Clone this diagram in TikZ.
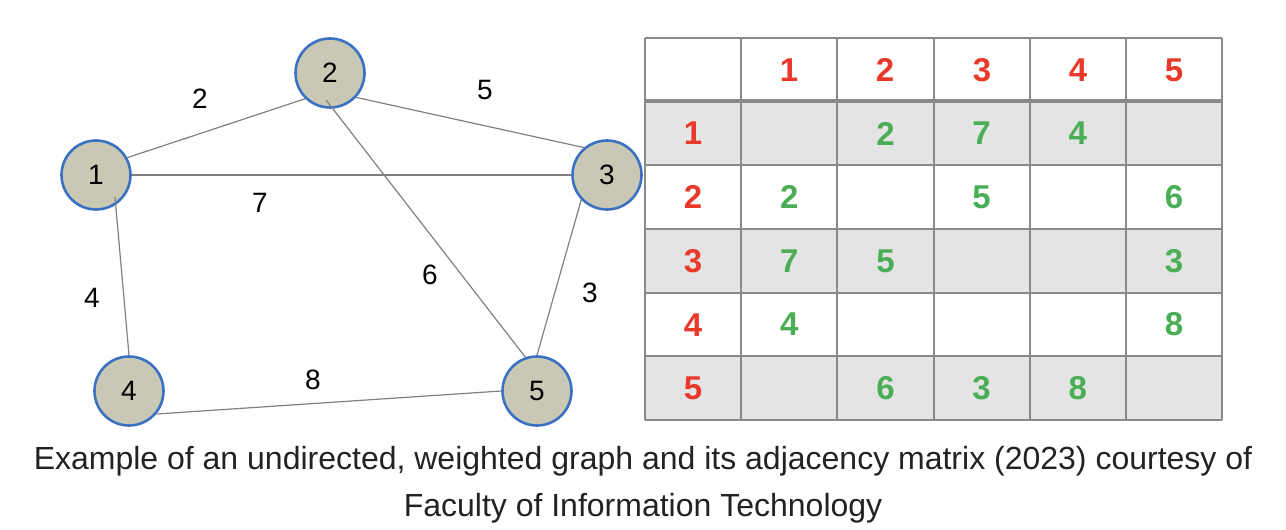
\documentclass[tikz,border=0pt]{standalone}
\usepackage{fontspec}
\setmainfont{Liberation Sans}
\definecolor{nodefill}{HTML}{C9C8B4}
\definecolor{nodeborder}{HTML}{3B71C2}
\definecolor{edgecol}{HTML}{808080}
\definecolor{gridcol}{HTML}{8A8A8A}
\definecolor{rowgray}{HTML}{E4E4E4}
\definecolor{hred}{HTML}{E8392B}
\definecolor{vgreen}{HTML}{4AAE56}
\definecolor{captcol}{HTML}{222222}
\begin{document}
\begin{tikzpicture}[x=1pt,y=-1pt,
  vertex/.style={circle, draw=nodeborder, fill=nodefill, line width=2.6pt, minimum size=69pt, inner sep=0pt, font=\fontsize{28}{30}\selectfont},
  edge/.style={draw=edgecol, line width=1.2pt},
  wlabel/.style={font=\fontsize{28}{30}\selectfont},
  hdr/.style={text=hred, font=\bfseries\fontsize{33}{36}\selectfont},
  val/.style={text=vgreen, font=\bfseries\fontsize{33}{36}\selectfont},
  grid line/.style={draw=gridcol, line width=2pt},
  caption/.style={text=captcol, font=\fontsize{32}{34}\selectfont}]
\useasboundingbox (0,0) rectangle (1286,530);
% graph
\node[vertex] (n1) at (96,175) {1};
\node[vertex] (n2) at (330,73) {2};
\node[vertex] (n3) at (607,175) {3};
\node[vertex] (n4) at (129,391) {4};
\node[vertex] (n5) at (537,391) {5};
\draw[edge] (n1.29) -- (n2.226);
\draw[edge] (n1.0) -- (n3.180);
\draw[edge] ([shift={(19,22)}]n1.center) -- (n4.90);
\draw[edge] (n2.-43) -- (n3.130);
\draw[edge] ([shift={(-4,27)}]n2.center) -- (n5.109);
\draw[edge] (n3.224) -- (n5.90);
\draw[edge] (n4.-40) -- (n5.180);
\node[wlabel] (w12) at (200,99) {2};
\node[wlabel] (w23) at (485,90) {5};
\node[wlabel] (w13) at (260,203) {7};
\node[wlabel] (w14) at (92,298) {4};
\node[wlabel] (w25) at (430,275) {6};
\node[wlabel] (w35) at (590,293) {3};
\node[wlabel] (w45) at (313,380) {8};
% table
\fill[rowgray] (645,101) rectangle (1222,165);
\fill[rowgray] (645,229) rectangle (1222,293);
\fill[rowgray] (645,356) rectangle (1222,420);
\foreach \x in {645,741,837,934,1030,1126,1222}{
  \draw[grid line] (\x,38) -- (\x,420);
}
\foreach \y in {38,165,229,293,356,420}{
  \draw[grid line] (645,\y) -- (1222,\y);
}
\draw[draw=gridcol, line width=3.2pt] (645,101) -- (1222,101);
\foreach \k/\cx/\ry in {1/789/133,2/885/197,3/982/261,4/1078/325,5/1174/388}{
  \node[hdr] (h-\k) at (\cx,70) {\k};
  \node[hdr] (r-\k) at (693,\ry) {\k};
}
\foreach \r/\c/\v in {1/2/2,1/3/7,1/4/4,2/1/2,2/3/5,2/5/6,3/1/7,3/2/5,3/5/3,4/1/4,4/5/8,5/2/6,5/3/3,5/4/8}{
  \node[val] (c-\r-\c) at ({645+(\c+0.5)*96.17},{38+(\r+0.5)*63.67}) {\v};
}
% caption
\node[caption] (cap1) at (643,461) {Example of an undirected, weighted graph and its adjacency matrix (2023) courtesy of};
\node[caption] (cap2) at (643,508) {Faculty of Information Technology};
\end{tikzpicture}
\end{document}
